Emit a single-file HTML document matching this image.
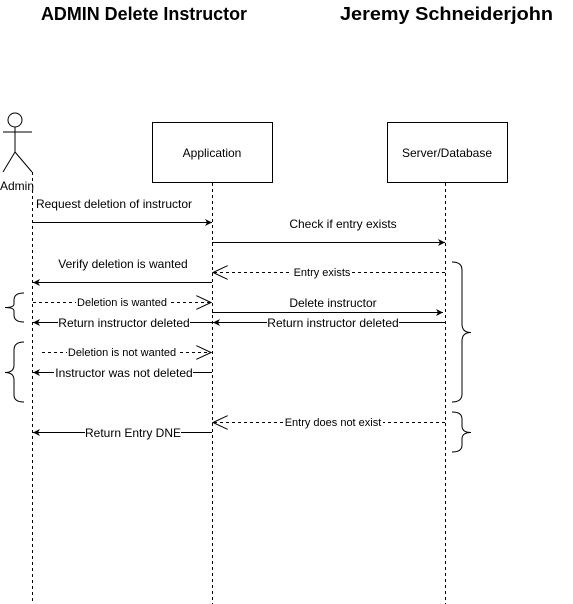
<!DOCTYPE html>
<html><head><meta charset="utf-8"><style>
html,body{margin:0;padding:0;background:#fff;width:573px;height:604px;overflow:hidden}
svg text{font-family:"Liberation Sans",Arial,sans-serif;fill:#000}
</style></head><body>
<svg width="573" height="604" viewBox="0 0 573 604" xmlns="http://www.w3.org/2000/svg">
<defs>
<marker id="f" markerWidth="8" markerHeight="8" refX="7" refY="4" orient="auto" markerUnits="userSpaceOnUse"><path d="M0,0.5 L7,4 L0,7.5 L2,4 Z" fill="#000"/></marker>
<marker id="o" markerWidth="16" markerHeight="14" refX="15" refY="7" orient="auto" markerUnits="userSpaceOnUse"><path d="M0,0 L15,7 L0,14" fill="none" stroke="#000" stroke-width="1"/></marker>
</defs>
<text x="41" y="20" font-size="18" font-weight="bold" textLength="206" lengthAdjust="spacingAndGlyphs">ADMIN Delete Instructor</text>
<text x="340" y="20" font-size="18" font-weight="bold" textLength="213" lengthAdjust="spacingAndGlyphs">Jeremy Schneiderjohn</text>
<!-- actor -->
<g stroke="#000" fill="none" stroke-width="1">
<circle cx="15" cy="120" r="7" fill="#fff"/>
<line x1="15" y1="127" x2="15" y2="152"/>
<line x1="3" y1="132" x2="32" y2="132"/>
<line x1="15" y1="152" x2="3" y2="172"/>
<line x1="15" y1="152" x2="32" y2="172"/>
</g>
<text x="17" y="190" font-size="12" text-anchor="middle">Admin</text>
<rect x="152.5" y="122.5" width="120" height="60" fill="#fff" stroke="#000"/>
<text x="212" y="157" font-size="12" text-anchor="middle">Application</text>
<rect x="387.5" y="122.5" width="120" height="60" fill="#fff" stroke="#000"/>
<text x="447" y="157" font-size="12" text-anchor="middle">Server/Database</text>
<g stroke="#000" stroke-dasharray="3,3" stroke-width="1">
<line x1="32.5" y1="172" x2="32.5" y2="604"/>
<line x1="212.5" y1="183" x2="212.5" y2="604"/>
<line x1="445.5" y1="183" x2="445.5" y2="604"/>
</g>
<g stroke="#000" stroke-width="1" fill="none">
<line x1="33" y1="222.5" x2="212" y2="222.5" marker-end="url(#f)"/>
<line x1="212" y1="242.5" x2="445" y2="242.5" marker-end="url(#f)"/>
<line x1="445" y1="272.5" x2="213" y2="272.5" stroke-dasharray="3,3" marker-end="url(#o)"/>
<line x1="212" y1="282.5" x2="33" y2="282.5" marker-end="url(#f)"/>
<line x1="33" y1="302.5" x2="211" y2="302.5" stroke-dasharray="3,3" marker-end="url(#o)"/>
<line x1="212" y1="312.5" x2="443" y2="312.5" marker-end="url(#f)"/>
<line x1="445" y1="322.5" x2="213" y2="322.5" marker-end="url(#f)"/>
<line x1="212" y1="322.5" x2="33" y2="322.5" marker-end="url(#f)"/>
<line x1="42" y1="352.5" x2="211" y2="352.5" stroke-dasharray="3,3" marker-end="url(#o)"/>
<line x1="212" y1="372.5" x2="33" y2="372.5" marker-end="url(#f)"/>
<line x1="445" y1="422.5" x2="213" y2="422.5" stroke-dasharray="3,3" marker-end="url(#o)"/>
<line x1="212" y1="432.5" x2="33" y2="432.5" marker-end="url(#f)"/>
<path d="M24,293 Q14,293 14,300 L14,304 Q14,307.5 5,307.5 Q14,307.5 14,311 L14,315 Q14,322 24,322"/>
<path d="M24,342 Q14,342 14,350 L14,365 Q14,372.5 5,372.5 Q14,372.5 14,380 L14,395 Q14,402 24,402"/>
<path d="M452,262 Q462,262 462,270 L462,324 Q462,332.5 471,332.5 Q462,332.5 462,341 L462,394 Q462,402 452,402"/>
<path d="M452,412 Q462,412 462,419 L462,426 Q462,432.5 471,432.5 Q462,432.5 462,439 L462,445 Q462,452 452,452"/>
</g>
<g font-size="12" text-anchor="middle">
<text x="114" y="208">Request deletion of instructor</text>
<text x="343" y="228">Check if entry exists</text>
<text x="123" y="268">Verify deletion is wanted</text>
<text x="333" y="307">Delete instructor</text>
</g>
<g font-size="11" text-anchor="middle">
<rect x="292" y="266" width="60" height="12" fill="#fff"/>
<text x="322" y="276">Entry exists</text>
<rect x="76" y="296" width="92" height="12" fill="#fff"/>
<text x="122" y="306">Deletion is wanted</text>
<rect x="67" y="346" width="110" height="12" fill="#fff"/>
<text x="122" y="356">Deletion is not wanted</text>
<rect x="283" y="416" width="100" height="12" fill="#fff"/>
<text x="333" y="426">Entry does not exist</text>
</g>
<g font-size="12" text-anchor="middle">
<rect x="267" y="315" width="132" height="14" fill="#fff"/>
<text x="333" y="327">Return instructor deleted</text>
<rect x="58" y="315" width="132" height="14" fill="#fff"/>
<text x="124" y="327">Return instructor deleted</text>
<rect x="54" y="365" width="139" height="14" fill="#fff"/>
<text x="124" y="377">Instructor was not deleted</text>
<rect x="85" y="425" width="96" height="14" fill="#fff"/>
<text x="133" y="437">Return Entry DNE</text>
</g>
</svg>
</body></html>
